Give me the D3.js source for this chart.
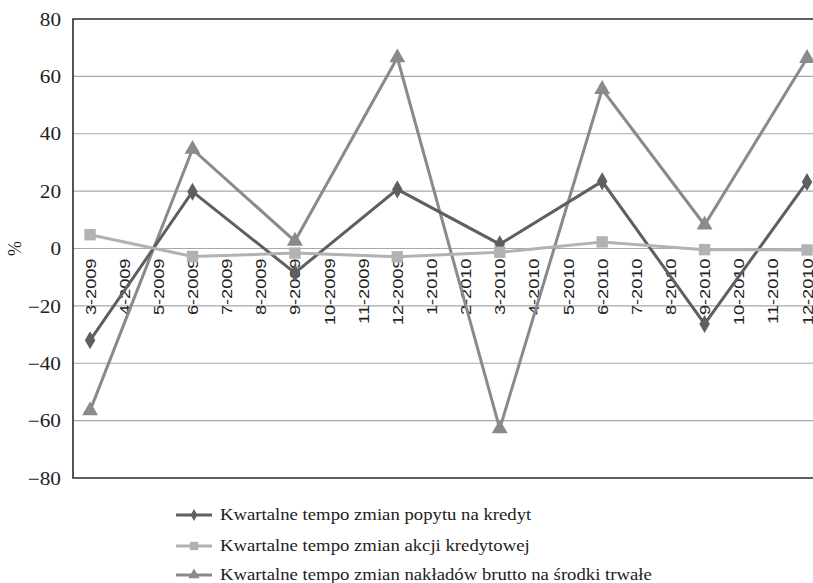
<!DOCTYPE html>
<html>
<head>
<meta charset="utf-8">
<script src="https://cdn.jsdelivr.net/npm/d3@7"></script>
<style>
  html, body { margin: 0; padding: 0; background: #fff; }
  svg { display: block; }
</style>
</head>
<body>
<svg id="chart" width="813" height="583"></svg>
<script>
// Months on the category axis (monthly slots, values only at quarter ends)
const months = ["3-2009","4-2009","5-2009","6-2009","7-2009","8-2009","9-2009","10-2009","11-2009","12-2009",
  "1-2010","2-2010","3-2010","4-2010","5-2010","6-2010","7-2010","8-2010","9-2010","10-2010","11-2010","12-2010"];

const quarters = ["3-2009","6-2009","9-2009","12-2009","3-2010","6-2010","9-2010","12-2010"];

const popytValues   = [-32, 19.8, -8.5, 20.6, 1.5, 23.4, -26.3, 23.2];
const akcjaValues   = [4.8, -2.8, -1.6, -2.9, -1.3, 2.3, -0.4, -0.5];
const nakladyValues = [-56.5, 34.6, 2.6, 66.5, -62.8, 55.5, 8.2, 66.3];

const yTicks = [80, 60, 40, 20, 0, -20, -40, -60, -80];

const seriesNames = [
  "Kwartalne tempo zmian popytu na kredyt",
  "Kwartalne tempo zmian akcji kredytowej",
  "Kwartalne tempo zmian nakładów brutto na środki trwałe"
];

const serif = "Liberation Serif, Times New Roman, Times, serif";
const sans = "Liberation Sans, Arial, Helvetica, sans-serif";

const series = [
  { name: seriesNames[2], values: nakladyValues, color: "#8a8a8c", symbol: d3.symbolTriangle, size: 110 },
  { name: seriesNames[0], values: popytValues,   color: "#5f5f61", symbol: d3.symbolDiamond,  size: 95 },
  { name: seriesNames[1], values: akcjaValues,   color: "#b2b2b4", symbol: d3.symbolSquare,   size: 130 }
];

const svg = d3.select("#chart");
const plotLeft = 73, plotTop = 19, plotBottom = 478;
const bandW = 34.14;
const plotRight = plotLeft + bandW * months.length;

const x = d3.scalePoint().domain(months).range([plotLeft, plotRight]).padding(0.5);
const y = d3.scaleLinear().domain([-80, 80]).range([plotBottom, plotTop]);

// horizontal gridlines
svg.append("g")
  .selectAll("line")
  .data(yTicks.filter(t => t !== 80 && t !== -80))
  .join("line")
  .attr("x1", plotLeft).attr("x2", 813)
  .attr("y1", d => y(d)).attr("y2", d => y(d))
  .attr("stroke", "#a8a8a8").attr("stroke-width", 1.2);

// frame
svg.append("path")
  .attr("d", `M813,${plotTop}H${plotLeft}V${plotBottom}H813`)
  .attr("fill", "none").attr("stroke", "#2b2b2b").attr("stroke-width", 1.6);

// y axis labels
const yAxis = d3.axisLeft(y).tickValues(yTicks).tickSize(0).tickPadding(0)
  .tickFormat(d => d < 0 ? "\u2212" + Math.abs(d) : String(d));
const yg = svg.append("g").attr("transform", `translate(${plotLeft - 12},0)`).call(yAxis);
yg.attr("font-family", serif).attr("font-size", 18);
yg.select(".domain").remove();
yg.selectAll("text")
  .style("font-family", serif).style("font-size", "18px")
  .attr("transform", "scale(1.18,1)")
  .attr("fill", "#222").attr("dy", "0.34em");

svg.append("text")
  .attr("transform", `translate(21,${y(0)}) rotate(-90)`)
  .attr("text-anchor", "middle")
  .style("font-family", serif).style("font-size", "18px")
  .attr("fill", "#222")
  .text("%");

// category labels under the zero line
const xAxis = d3.axisBottom(x).tickSize(0).tickPadding(0);
const xg = svg.append("g").attr("transform", `translate(0,${y(0)})`).call(xAxis);
xg.attr("font-family", sans).attr("font-size", 14);
xg.select(".domain").remove();
xg.selectAll("text")
  .attr("transform", "rotate(-90) translate(-10,0) scale(1.3,1)")
  .attr("text-anchor", "end")
  .attr("x", 0).attr("y", 0).attr("dy", "0.36em")
  .style("font-family", sans).style("font-size", "14px")
  .attr("fill", "#222");

// series lines and markers
const line = d3.line().x(d => x(d.m)).y(d => y(d.v));
series.forEach(s => {
  const pts = quarters.map((m, i) => ({ m, v: s.values[i] }));
  svg.append("path").datum(pts)
    .attr("d", line)
    .attr("fill", "none").attr("stroke", s.color).attr("stroke-width", 3)
    .attr("stroke-linejoin", "miter");
  svg.append("g").selectAll("path").data(pts).join("path")
    .attr("d", d3.symbol().type(s.symbol).size(s.size))
    .attr("transform", d => `translate(${x(d.m)},${y(d.v)})`)
    .attr("fill", s.color);
});

// legend
const legendItems = [
  { name: seriesNames[0], color: "#5f5f61", symbol: d3.symbolDiamond, size: 40 },
  { name: seriesNames[1], color: "#b2b2b4", symbol: d3.symbolSquare, size: 70 },
  { name: seriesNames[2], color: "#8a8a8c", symbol: d3.symbolTriangle, size: 55 }
];
const legendY = [515, 546, 575];
const lg = svg.append("g");
legendItems.forEach((it, i) => {
  const cy = legendY[i];
  lg.append("line").attr("x1", 176).attr("x2", 212).attr("y1", cy).attr("y2", cy)
    .attr("stroke", it.color).attr("stroke-width", 3);
  lg.append("path").attr("d", d3.symbol().type(it.symbol).size(it.size)())
    .attr("transform", `translate(194,${cy})`).attr("fill", it.color);
  lg.append("text")
    .attr("transform", `translate(220,${cy + 5}) scale(1.17,1)`)
    .style("font-family", serif).style("font-size", "16px")
    .attr("fill", "#222")
    .text(it.name);
});
</script>
</body>
</html>
